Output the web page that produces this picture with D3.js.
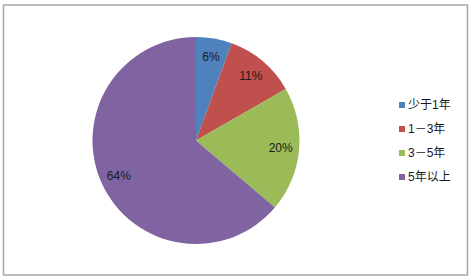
<!DOCTYPE html>
<html lang="zh">
<head>
    <meta charset="UTF-8">
    <title>Pie</title>
    <style>
        body { margin: 0; background: #fff; }
        text { font-family: "Liberation Sans", "Noto Sans CJK SC", sans-serif; }
    </style>
</head>
<body>
    <svg width="471" height="280"></svg>
    <script src="https://d3js.org/d3.v7.min.js"></script>
    <script>

        // Data
        const categories = ['少于1年', '1－3年', '3－5年', '5年以上'];
        const values = [5.6, 11.1, 19.5, 63.8];
        const colors = ['#4F81BD', '#C0504D', '#9BBB59', '#8064A2'];

        const svg = d3.select('svg');

        // Frame
        svg.append('rect')
            .attr('x', 3.5)
            .attr('y', 5)
            .attr('width', 464)
            .attr('height', 270)
            .attr('fill', 'none')
            .attr('stroke', '#a6a6a6')
            .attr('stroke-width', 1.5);

        const cx = 196, cy = 140.5, radius = 103.5;
        const total = d3.sum(values);

        const pie = d3.pie().sort(null).value(function (d) { return d; });
        const arc = d3.arc().innerRadius(0).outerRadius(radius);
        const labelArc = d3.arc().innerRadius(85).outerRadius(85);

        const g = svg.append('g')
            .attr('transform', 'translate(' + cx + ' ' + cy + ')');

        const arcs = pie(values);

        g.selectAll('path')
            .data(arcs)
            .enter()
            .append('path')
            .attr('d', arc)
            .attr('fill', function (d, i) { return colors[i]; });

        g.selectAll('text')
            .data(arcs)
            .enter()
            .append('text')
            .attr('transform', function (d) {
                return 'translate(' + labelArc.centroid(d) + ')';
            })
            .attr('text-anchor', 'middle')
            .attr('dy', '0.35em')
            .attr('font-size', 12)
            .attr('fill', '#1a1a1a')
            .text(function (d) { return Math.round(d.value / total * 100) + '%'; });

        // Legend
        const legend = svg.append('g')
            .attr('transform', 'translate(399 105)');

        const rows = legend.selectAll('g')
            .data(categories)
            .enter()
            .append('g')
            .attr('transform', function (d, i) { return 'translate(0 ' + (i * 24) + ')'; });

        rows.append('rect')
            .attr('x', 0)
            .attr('y', -3)
            .attr('width', 6)
            .attr('height', 6)
            .attr('fill', function (d, i) { return colors[i]; });

        rows.append('text')
            .attr('x', 9)
            .attr('dy', '0.35em')
            .attr('font-size', 12)
            .attr('fill', '#1a1a1a')
            .text(function (d) { return d; });

    </script>
</body>
</html>
